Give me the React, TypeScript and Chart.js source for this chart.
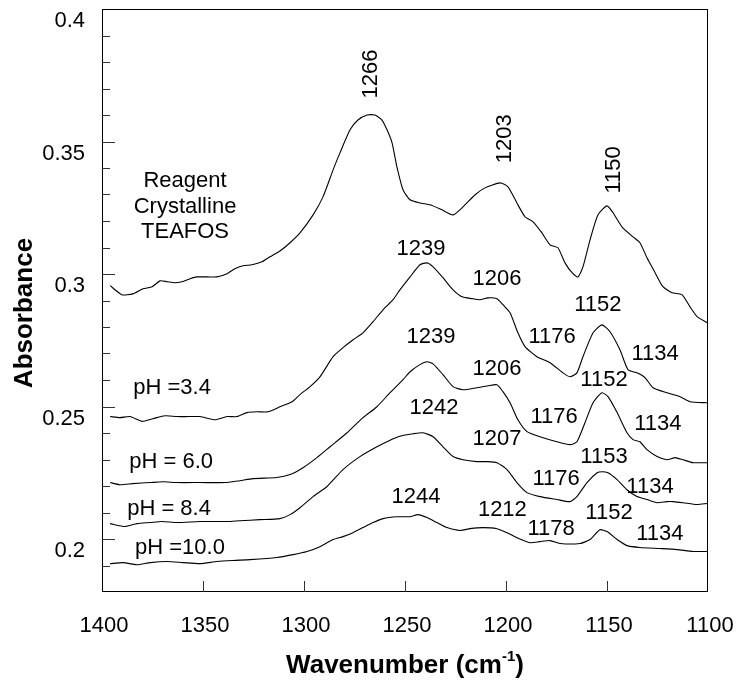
import { useEffect, useRef } from 'react';
import { Chart, registerables } from 'chart.js';

Chart.register(...registerables);

// [wavenumber (cm-1), absorbance]
const reagentCrystalline = [
  [1396, 0.2956], [1390.2, 0.2922], [1384.7, 0.2925], [1379.7, 0.2944], [1375.2, 0.2952],
  [1371.3, 0.2974], [1367.8, 0.2971], [1363.9, 0.2967], [1360.4, 0.2971], [1356.4, 0.2982],
  [1353, 0.2989], [1348, 0.2989], [1343.1, 0.2989], [1338.1, 0.3001], [1334.2, 0.302],
  [1330.2, 0.3031], [1325.7, 0.3035], [1320.8, 0.3046], [1316.8, 0.3065], [1311.9, 0.3087],
  [1306.9, 0.3118], [1302, 0.3155], [1295.5, 0.3223], [1290.6, 0.3291], [1285.6, 0.3393],
  [1282.2, 0.3457], [1277.2, 0.3544], [1273.3, 0.3581], [1268.8, 0.36], [1264.9, 0.36],
  [1261.4, 0.3581], [1258.9, 0.3544], [1256.4, 0.3495], [1254, 0.3404], [1251, 0.3318],
  [1247.5, 0.328], [1242.6, 0.3268], [1237.6, 0.3261], [1231.7, 0.3242], [1226.2, 0.3223],
  [1221.3, 0.3253], [1215.3, 0.3299], [1210.4, 0.3325], [1203, 0.3344], [1199, 0.3329],
  [1194.6, 0.3268], [1190.6, 0.3216], [1186.6, 0.3197], [1182.2, 0.3155], [1178.2, 0.311],
  [1174.3, 0.3099], [1170.8, 0.3042], [1167.3, 0.3005], [1164.4, 0.2989], [1161.9, 0.3027],
  [1158.4, 0.3129], [1154.5, 0.3223], [1150, 0.3257], [1147, 0.3231], [1142.6, 0.3178],
  [1137.1, 0.314], [1133.7, 0.3118], [1130.2, 0.3061], [1126.2, 0.3005], [1122.3, 0.2952],
  [1117.8, 0.2929], [1112.9, 0.2922], [1108.9, 0.2876], [1105.4, 0.2839], [1100.4, 0.2816],
];

const pH34 = [
  [1396, 0.2462], [1391.1, 0.2458], [1386.1, 0.2462], [1380.3, 0.2444], [1374.8, 0.2454],
  [1368.8, 0.2465], [1362.9, 0.2462], [1357.4, 0.2462], [1351.5, 0.2462], [1344.1, 0.245],
  [1338.1, 0.2462], [1333.2, 0.2462], [1328.2, 0.2477], [1323.3, 0.248], [1317.8, 0.248],
  [1311.9, 0.2499], [1305.9, 0.2518], [1302, 0.2545], [1297, 0.2575], [1292.1, 0.2612],
  [1285.6, 0.2688], [1280.7, 0.2722], [1275.7, 0.2752], [1270.8, 0.2778], [1265.8, 0.282],
  [1260.9, 0.2865], [1255.9, 0.2903], [1252.5, 0.294], [1247.5, 0.2989], [1242.6, 0.3035],
  [1239.1, 0.3042], [1236.1, 0.3027], [1231.2, 0.2986], [1226.2, 0.294], [1221.8, 0.2914],
  [1216.8, 0.2907], [1212.9, 0.2903], [1208.9, 0.291], [1204.5, 0.2907], [1201.5, 0.2884],
  [1198, 0.2854], [1194.1, 0.2778], [1190.6, 0.2726], [1184.7, 0.2688], [1178.2, 0.2665],
  [1171.8, 0.2627], [1168.3, 0.2612], [1164.9, 0.2627], [1161.9, 0.2688], [1156.9, 0.2778],
  [1152.5, 0.2808], [1148.5, 0.2782], [1143.6, 0.2714], [1139.6, 0.2639], [1135.2, 0.2627],
  [1131.2, 0.2609], [1127.2, 0.2571], [1120.3, 0.2552], [1113.8, 0.2537], [1108.9, 0.2518],
  [1100.4, 0.2514],
];

const pH60 = [
  [1396, 0.2213], [1391.1, 0.2205], [1384.7, 0.2209], [1376.2, 0.2213], [1369.8, 0.2216],
  [1362.9, 0.2213], [1351.5, 0.2213], [1338.1, 0.2213], [1331.7, 0.222], [1325.2, 0.2228],
  [1313.4, 0.2232], [1306.9, 0.2243], [1300.5, 0.2269], [1293.6, 0.2307], [1287.1, 0.2348],
  [1278.7, 0.2401], [1270.8, 0.2458], [1263.9, 0.2499], [1257.4, 0.2552], [1251, 0.2601],
  [1247.5, 0.2631], [1242.6, 0.2658], [1239.1, 0.2669], [1236.1, 0.2661], [1231.2, 0.262],
  [1226.2, 0.2575], [1221.3, 0.2563], [1214.4, 0.2571], [1208.9, 0.2578], [1204.5, 0.2582],
  [1201.5, 0.2556], [1198, 0.2514], [1194.1, 0.245], [1189.6, 0.2405], [1183.2, 0.2386],
  [1174.8, 0.2367], [1168.3, 0.2356], [1164.9, 0.2367], [1160.9, 0.2439], [1156.9, 0.2514],
  [1152.5, 0.2552], [1149.5, 0.2537], [1145, 0.2477], [1140.1, 0.2401], [1137.1, 0.2375],
  [1133.7, 0.2367], [1130.2, 0.2337], [1125.2, 0.2311], [1120.3, 0.2299], [1116.3, 0.2307],
  [1112.4, 0.2299], [1107.4, 0.2288], [1100.4, 0.2288],
];

const pH84 = [
  [1396, 0.2058], [1388.6, 0.2047], [1382.7, 0.2058], [1376.2, 0.2062], [1370.3, 0.2066],
  [1362.9, 0.2062], [1351.5, 0.2066], [1338.1, 0.2066], [1331.7, 0.2069], [1321.8, 0.2073],
  [1311.9, 0.2077], [1306.9, 0.2092], [1302, 0.2118], [1295.5, 0.216], [1288.6, 0.2198],
  [1280.7, 0.2262], [1272.3, 0.2311], [1263.9, 0.2348], [1257.4, 0.2373], [1252.5, 0.2388],
  [1246, 0.2397], [1241.1, 0.2401], [1236.1, 0.2386], [1231.2, 0.2348], [1226.2, 0.2311],
  [1221.3, 0.2299], [1214.4, 0.2292], [1209.4, 0.2292], [1204.5, 0.2288], [1199.5, 0.2262],
  [1194.6, 0.2213], [1189.6, 0.2175], [1183.2, 0.216], [1174.8, 0.2149], [1168.3, 0.2141],
  [1164.9, 0.216], [1159.9, 0.2213], [1154.9, 0.225], [1152.5, 0.2254], [1149.5, 0.225],
  [1145, 0.2224], [1140.1, 0.2186], [1135.2, 0.216], [1130.2, 0.2149], [1125.2, 0.2137],
  [1120.3, 0.2141], [1117.3, 0.2141], [1112.4, 0.2137], [1105.4, 0.213], [1100.4, 0.2134],
];

const pH100 = [
  [1396, 0.1907], [1389.6, 0.1911], [1382.7, 0.1903], [1376.2, 0.1911], [1367.8, 0.1915],
  [1359.9, 0.1911], [1351.5, 0.1907], [1343.1, 0.1915], [1335.1, 0.1919], [1326.7, 0.1922],
  [1313.4, 0.193], [1305.4, 0.1941], [1298.5, 0.1953], [1292.1, 0.1971], [1285.6, 0.1998],
  [1280.7, 0.2009], [1275.7, 0.2024], [1270.8, 0.2043], [1265.8, 0.2062], [1260.9, 0.2077],
  [1253.9, 0.2084], [1247.5, 0.2084], [1243.6, 0.2092], [1239.1, 0.2081], [1234.2, 0.2062],
  [1229.2, 0.2043], [1222.8, 0.2032], [1217.8, 0.2039], [1211.4, 0.2043], [1204.5, 0.2039],
  [1199.5, 0.2024], [1194.6, 0.2005], [1188.1, 0.1986], [1183.2, 0.199], [1178.2, 0.1994],
  [1173.3, 0.1983], [1163.4, 0.1983], [1158.4, 0.1998], [1153.5, 0.2035], [1150, 0.2028],
  [1145, 0.1998], [1140.1, 0.1975], [1133.7, 0.1968], [1123.8, 0.1964], [1115.3, 0.196],
  [1107.4, 0.1953], [1100.4, 0.1953],
];

const seriesList = [reagentCrystalline, pH34, pH60, pH84, pH100];
const seriesNames = ['Reagent Crystalline TEAFOS', 'pH =3.4', 'pH = 6.0', 'pH = 8.4', 'pH =10.0'];

const xTickValues = [1400, 1350, 1300, 1250, 1200, 1150, 1100];
const xTickLabels = ['1400', '1350', '1300', '1250', '1200', '1150', '1100'];
const yTickValues = [0.2, 0.25, 0.3, 0.35, 0.4];
const yTickLabels = ['0.2', '0.25', '0.3', '0.35', '0.4'];
const yMinorTicks = [0.19, 0.21, 0.22, 0.23, 0.24, 0.26, 0.27, 0.28, 0.29, 0.31, 0.32, 0.33, 0.34, 0.36, 0.37, 0.38, 0.39];

// peak annotations: text, anchor wavenumber, anchor absorbance, rotated
const peakTexts = ['1266', '1203', '1150', '1239', '1206', '1152', '1239', '1176', '1134', '1206', '1152', '1242', '1176', '1134', '1207', '1153', '1176', '1134', '1244', '1212', '1152', '1178', '1134'];
const peakWn = [1267.8, 1201.7, 1147.5, 1242.1, 1204.5, 1154.5, 1237.1, 1177.2, 1126.2, 1204.5, 1151.5, 1235.6, 1176.2, 1124.8, 1204.5, 1151.5, 1175.2, 1128.7, 1244.6, 1201.8, 1149, 1177.7, 1123.8];
const peakAbs = [0.3755, 0.351, 0.3393, 0.3103, 0.2989, 0.2891, 0.2771, 0.2771, 0.2707, 0.265, 0.2609, 0.2503, 0.2469, 0.2443, 0.2386, 0.2318, 0.2235, 0.2205, 0.2167, 0.2118, 0.2107, 0.2047, 0.2028];
const peakRotated = [true, true, true];

const sampleTexts = ['Reagent', 'Crystalline', 'TEAFOS', 'pH =3.4', 'pH = 6.0', 'pH = 8.4', 'pH =10.0'];
const sampleWn = [1358.9, 1358.9, 1358.9, 1365.3, 1365.8, 1366.8, 1361.4];
const sampleAbs = [0.3359, 0.3261, 0.3167, 0.2578, 0.2299, 0.2122, 0.1975];

const FONT = '"Liberation Sans", Arial, Helvetica, sans-serif';

const decorPlugin = {
  id: 'decor',
  afterDraw(chart: any) {
    const { ctx, chartArea: a, scales } = chart;
    const xs = scales.x;
    const ys = scales.y;
    ctx.save();
    // frame
    ctx.strokeStyle = '#000';
    ctx.lineWidth = 1;
    ctx.strokeRect(a.left + 0.5, a.top + 0.5, a.right - a.left - 1, a.bottom - a.top - 1);
    // inward ticks
    ctx.strokeStyle = '#333';
    ctx.beginPath();
    yTickValues.forEach((v) => {
      const p = Math.round(ys.getPixelForValue(v)) + 0.5;
      if (p <= a.top + 2) return;
      ctx.moveTo(a.left, p);
      ctx.lineTo(a.left + 13, p);
    });
    yMinorTicks.forEach((v) => {
      const p = Math.round(ys.getPixelForValue(v)) + 0.5;
      ctx.moveTo(a.left, p);
      ctx.lineTo(a.left + 8, p);
    });
    xTickValues.forEach((v) => {
      const p = Math.round(xs.getPixelForValue(v)) + 0.5;
      if (p <= a.left + 2 || p >= a.right - 2) return;
      ctx.moveTo(p, a.bottom);
      ctx.lineTo(p, a.bottom - 11);
    });
    ctx.stroke();

    ctx.fillStyle = '#000';
    ctx.font = `22px ${FONT}`;
    ctx.textBaseline = 'alphabetic';

    // tick labels
    ctx.textAlign = 'right';
    yTickValues.forEach((v, i) => {
      const p = ys.getPixelForValue(v);
      ctx.fillText(yTickLabels[i], a.left - 17, p + 18);
    });
    ctx.textAlign = 'center';
    xTickValues.forEach((v, i) => {
      const p = xs.getPixelForValue(v);
      ctx.fillText(xTickLabels[i], p + 2, a.bottom + 40);
    });

    // annotations
    peakTexts.forEach((t, i) => {
      const x = xs.getPixelForValue(peakWn[i]);
      const y = ys.getPixelForValue(peakAbs[i]);
      if (peakRotated[i]) {
        ctx.save();
        ctx.translate(x, y);
        ctx.rotate(-Math.PI / 2);
        ctx.fillText(t, 0, 8);
        ctx.restore();
      } else {
        ctx.fillText(t, x, y + 8);
      }
    });
    sampleTexts.forEach((t, i) => {
      const x = xs.getPixelForValue(sampleWn[i]);
      const y = ys.getPixelForValue(sampleAbs[i]);
      ctx.fillText(t, x, y + 8);
    });

    // x axis title with superscript
    const cx = (a.left + a.right) / 2;
    const base = a.bottom + 81;
    ctx.textAlign = 'left';
    ctx.font = `bold 26px ${FONT}`;
    const t1 = 'Wavenumber (cm';
    const t3 = ')';
    const w1 = ctx.measureText(t1).width;
    const w3 = ctx.measureText(t3).width;
    ctx.font = `bold 15px ${FONT}`;
    const t2 = '-1';
    const w2 = ctx.measureText(t2).width;
    let sx = cx - (w1 + w2 + w3) / 2;
    ctx.font = `bold 26px ${FONT}`;
    ctx.fillText(t1, sx, base);
    sx += w1;
    ctx.font = `bold 15px ${FONT}`;
    ctx.fillText(t2, sx, base - 12);
    sx += w2;
    ctx.font = `bold 26px ${FONT}`;
    ctx.fillText(t3, sx, base);

    // y axis title
    ctx.save();
    ctx.translate(a.left - 79, 313);
    ctx.rotate(-Math.PI / 2);
    ctx.textAlign = 'center';
    ctx.font = `bold 26px ${FONT}`;
    ctx.fillText('Absorbance', 0, 9);
    ctx.restore();

    ctx.restore();
  },
};

export default function App() {
  const ref = useRef<HTMLCanvasElement | null>(null);
  useEffect(() => {
    if (!ref.current) return;
    const chart = new Chart(ref.current, {
      type: 'line',
      data: {
        datasets: seriesList.map((s, i) => ({
          label: seriesNames[i],
          data: s.map((p) => ({ x: p[0], y: p[1] })),
          borderColor: '#000',
          borderWidth: 1.1,
          pointRadius: 0,
          fill: false,
          tension: 0.2,
        })),
      },
      options: {
        responsive: false,
        animation: false,
        events: [],
        layout: { padding: { left: 0, right: 34, top: 9, bottom: 0 } },
        plugins: { legend: { display: false }, tooltip: { enabled: false } },
        scales: {
          x: {
            type: 'linear',
            reverse: true,
            min: 1100,
            max: 1400,
            grid: { display: false, drawTicks: false },
            border: { display: false },
            ticks: { display: false },
            afterFit: (scale: any) => {
              scale.height = 88;
            },
          },
          y: {
            type: 'linear',
            min: 0.18,
            max: 0.4,
            grid: { display: false, drawTicks: false },
            border: { display: false },
            ticks: { display: false },
            afterFit: (scale: any) => {
              scale.width = 102;
            },
          },
        },
      },
      plugins: [decorPlugin],
    });
    return () => chart.destroy();
  }, []);
  return (
    <div style={{ position: 'absolute', left: 0, top: 0, width: 742, height: 680, background: '#fff' }}>
      <canvas ref={ref} width={742} height={680} style={{ display: 'block' }} />
    </div>
  );
}
